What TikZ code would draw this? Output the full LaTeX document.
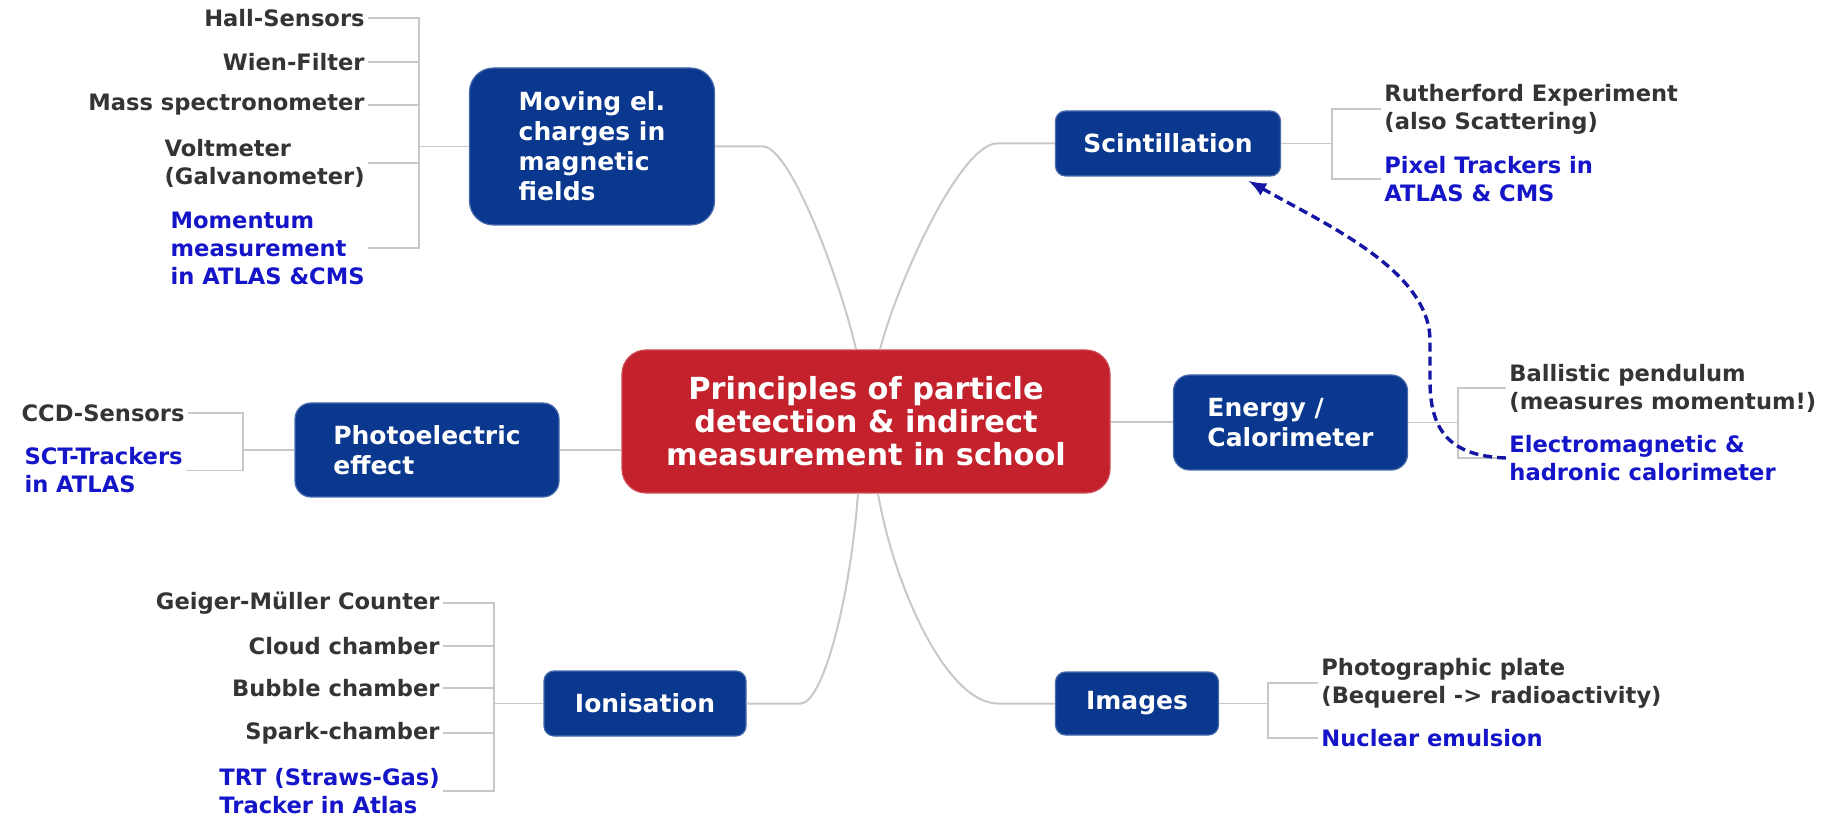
\documentclass[tikz,border=0pt]{standalone}
\usepackage{fontspec}
\setmainfont{DejaVu Sans}
\usepackage{tikz}
\usetikzlibrary{positioning}
\usetikzlibrary{arrows.meta}
\definecolor{rootred}{RGB}{195,33,44}
\definecolor{topicblue}{RGB}{10,56,143}
\definecolor{leafgray}{RGB}{52,52,52}
\definecolor{noteblue}{RGB}{20,20,200}
\definecolor{arrowblue}{RGB}{22,22,165}
\definecolor{branchgray}{RGB}{200,200,200}
\tikzset{>={Latex[width=7pt,length=9pt]}}
\tikzset{
  rootbox/.style={fill=rootred, draw=rootred!80!white, line width=0.6pt, rounded corners=12pt,
    text=white, align=center, font=\bfseries\fontsize{15.2}{16.5}\selectfont,
    minimum width=244pt, minimum height=71.5pt},
  topic/.style={fill=topicblue, draw=topicblue!75!white, line width=0.6pt, rounded corners=5pt,
    text=white, align=left, font=\bfseries\fontsize{12.5}{15}\selectfont},
  leaf/.style={text=leafgray, align=left, inner sep=1.5pt, font=\bfseries\fontsize{11.3}{14}\selectfont},
  note/.style={text=noteblue},
  twig/.style={branchgray, line width=0.6pt},
  branch/.style={branchgray, line width=1pt},
  xref/.style={arrowblue, line width=1.7pt, dash pattern=on 4.5pt off 2.5pt}
}

\begin{document}
\begin{tikzpicture}[x=0.5pt,y=-0.5pt]
\useasboundingbox (0,0) rectangle (1845,822);

\node (P) [rootbox] at (866,421.5) {Principles of particle\\detection \& indirect\\measurement in school};
\node (MC) [topic, rounded corners=12pt, minimum width=122.5pt, minimum height=78.5pt] at (592,146.5) {Moving el.\\charges in\\magnetic\\fields};
\node (SC) [topic, minimum width=112.5pt, minimum height=32.5pt] at (1168,143.5) {Scintillation};
\node (EC) [topic, rounded corners=8pt, minimum width=117pt, minimum height=47.5pt] at (1290.5,422.5) {Energy /\\Calorimeter};
\node (PE) [topic, rounded corners=8pt, minimum width=132pt, minimum height=47pt] at (427,450) {Photoelectric\\effect};
\node (IO) [topic, minimum width=101pt, minimum height=32.5pt] at (645,703.5) {Ionisation};
\node (IM) [topic, minimum width=81.5pt, minimum height=31.5pt] at (1137,703.5) {Images};

\node (hall) [leaf, anchor=east] at (368,18) {Hall-Sensors};
\node (wien) [leaf, anchor=east] at (368,62) {Wien-Filter};
\node (mass) [leaf, anchor=east] at (368,105) {Mass spectronometer};
\node (volt) [leaf, anchor=east] at (368,163) {Voltmeter\\(Galvanometer)};
\node (mom) [leaf, note, anchor=east] at (368,248) {Momentum\\measurement\\in ATLAS \&CMS};

\node (ccd) [leaf, anchor=east] at (188,413) {CCD-Sensors};
\node (sct) [leaf, note, anchor=east] at (186,470.5) {SCT-Trackers\\in ATLAS};

\node (gm) [leaf, anchor=east] at (443,603) {Geiger-Müller Counter};
\node (cloud) [leaf, anchor=east] at (443,646) {Cloud chamber};
\node (bubble) [leaf, anchor=east] at (443,688) {Bubble chamber};
\node (spark) [leaf, anchor=east] at (443,733) {Spark-chamber};
\node (trt) [leaf, note, anchor=east] at (443,791) {TRT (Straws-Gas)\\Tracker in Atlas};

\node (ruth) [leaf, anchor=west] at (1381,109) {Rutherford Experiment\\(also Scattering)};
\node (pix) [leaf, note, anchor=west] at (1381,179) {Pixel Trackers in\\ATLAS \& CMS};
\node (ball) [leaf, anchor=west] at (1506,388) {Ballistic pendulum\\(measures momentum!)};
\node (emcal) [leaf, note, anchor=west] at (1506,458) {Electromagnetic \&\\hadronic calorimeter};
\node (plate) [leaf, anchor=west] at (1318,683) {Photographic plate\\(Bequerel -> radioactivity)};
\node (emul) [leaf, note, anchor=west] at (1318,738) {Nuclear emulsion};

\coordinate (mcbar) at (419,146.5);
\coordinate (pebar) at (243,450);
\coordinate (iobar) at (494,703.5);
\coordinate (scbar) at (1332,143.5);
\coordinate (ecbar) at (1458,422.5);
\coordinate (imbar) at (1268,703.5);

% brackets to the leaves
\path [draw, twig] (hall.east) -- (hall.east -| mcbar) -- (mom.east -| mcbar) -- (mom.east);
\path [draw, twig] (wien.east) -- (wien.east -| mcbar);
\path [draw, twig] (mass.east) -- (mass.east -| mcbar);
\path [draw, twig] (volt.east) -- (volt.east -| mcbar);
\path [draw, twig] (mcbar) -- (MC);

\path [draw, twig] (ccd.east) -- (ccd.east -| pebar) -- (sct.east -| pebar) -- (sct.east);
\path [draw, twig] (pebar) -- (PE);

\path [draw, twig] (gm.east) -- (gm.east -| iobar) -- (trt.east -| iobar) -- (trt.east);
\path [draw, twig] (cloud.east) -- (cloud.east -| iobar);
\path [draw, twig] (bubble.east) -- (bubble.east -| iobar);
\path [draw, twig] (spark.east) -- (spark.east -| iobar);
\path [draw, twig] (iobar) -- (IO);

\path [draw, twig] (ruth.west) -- (ruth.west -| scbar) -- (pix.west -| scbar) -- (pix.west);
\path [draw, twig] (SC) -- (scbar);
\path [draw, twig] (ball.west) -- (ball.west -| ecbar) -- (emcal.west -| ecbar) -- (emcal.west);
\path [draw, twig] (EC) -- (ecbar);
\path [draw, twig] (plate.west) -- (plate.west -| imbar) -- (emul.west -| imbar) -- (emul.west);
\path [draw, twig] (IM) -- (imbar);

% main branches
\path [draw, branch] (MC.east) -- ++(48,0) .. controls +(27,0) and +(-16,-70) .. ([xshift=-5pt]P.north);
\path [draw, branch] (SC.west) -- ++(-58,0) .. controls +(-35,0) and +(20,-75) .. ([xshift=7pt]P.north);
\path [draw, branch] (IO.east) -- ++(54,0) .. controls +(22,0) and +(-8,107) .. ([xshift=-4pt]P.south);
\path [draw, branch] (IM.west) -- ++(-57,0) .. controls +(-50,0) and +(17,97) .. ([xshift=6pt]P.south);
\path [draw, branch] (PE.east) -- (PE.east -| P.west);
\path [draw, branch] (P.east |- EC.west) -- (EC.west);

\path [draw, xref, ->] (emcal.west) .. controls +(-56,-2) and +(0,50) .. ++(-76,-77) -- ++(0,-40)
  .. controls +(0,-70) and +(80,45) .. ([xshift=-16.5pt,yshift=-2pt]SC.south east);
\end{tikzpicture}
\end{document}
